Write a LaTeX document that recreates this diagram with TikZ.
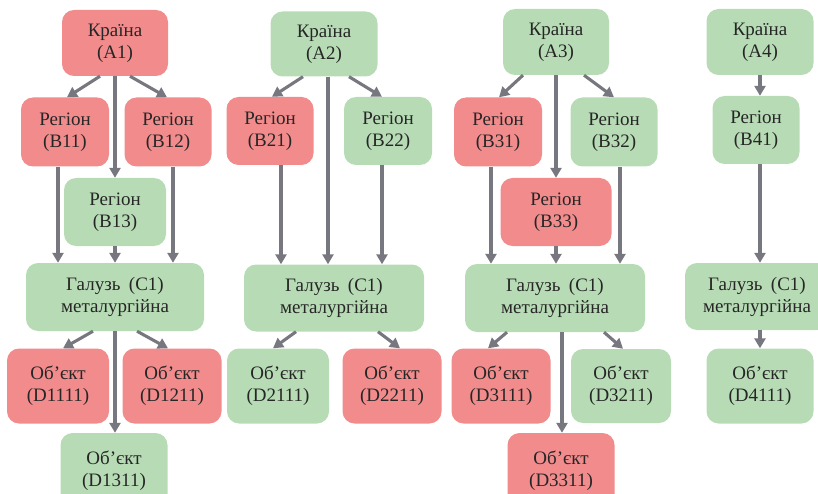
\documentclass[tikz,border=0pt]{standalone}
\usepackage{fontspec}
\setmainfont{Liberation Serif}
\usetikzlibrary{arrows.meta}
\definecolor{redbox}{HTML}{F28B8C}
\definecolor{greenbox}{HTML}{B7DCB5}
\definecolor{arrowgray}{HTML}{77777F}
\definecolor{txt}{HTML}{262626}
\tikzset{
  box/.style={rounded corners=12pt, align=center, inner sep=0pt, text=txt,
    font=\fontsize{19}{22}\selectfont},
  rbox/.style={box, fill=redbox},
  gbox/.style={box, fill=greenbox},
  conn/.style={draw=arrowgray, line width=3.1pt,
    -{Triangle[length=10pt,width=11pt]}},
}
\newcommand{\gal}{Галузь\hspace{0.45em}(C1)\\металургійна}
\begin{document}
\begin{tikzpicture}[x=1pt,y=-1pt]
\useasboundingbox (0,0) rectangle (818,494);
\clip (0,0) rectangle (818,494);
% ---------- column 1 ----------
\node[rbox, minimum width=106pt, minimum height=66pt] (A1) at (115,43) {Країна\\(A1)};
\node[rbox, minimum width=88pt, minimum height=69pt] (B11) at (65,132) {Регіон\\(B11)};
\node[rbox, minimum width=87pt, minimum height=69pt] (B12) at (168,132) {Регіон\\(B12)};
\node[gbox, minimum width=102pt, minimum height=68pt] (B13) at (115,212) {Регіон\\(B13)};
\node[gbox, minimum width=178pt, minimum height=68pt] (C1a) at (115,297) {\gal};
\node[rbox, minimum width=102pt, minimum height=75pt] (D1111) at (58,386) {Об’єкт\\(D1111)};
\node[rbox, minimum width=99pt, minimum height=75pt] (D1211) at (172,386) {Об’єкт\\(D1211)};
\node[gbox, minimum width=107pt, minimum height=76pt] (D1311) at (114,471) {Об’єкт\\(D1311)};
\draw[conn] ([xshift=-15pt]A1.south) -- ([xshift=2pt]B11.north);
\draw[conn] (A1.south) -- (B13.north);
\draw[conn] ([xshift=15pt]A1.south) -- ([xshift=-1pt]B12.north);
\draw[conn] ([xshift=-7pt]B11.south) -- ([xshift=-7pt]B11.south |- C1a.north);
\draw[conn] (B13.south) -- (B13.south |- C1a.north);
\draw[conn] ([xshift=5pt]B12.south) -- ([xshift=5pt]B12.south |- C1a.north);
\draw[conn] ([xshift=-22pt]C1a.south) -- ([xshift=5pt]D1111.north);
\draw[conn] (C1a.south) -- (C1a.south |- D1311.north);
\draw[conn] ([xshift=22pt]C1a.south) -- ([xshift=-4pt]D1211.north);
% ---------- column 2 ----------
\node[gbox, minimum width=107pt, minimum height=65pt] (A2) at (324,44) {Країна\\(A2)};
\node[rbox, minimum width=87pt, minimum height=68pt] (B21) at (270,131) {Регіон\\(B21)};
\node[gbox, minimum width=88pt, minimum height=68pt] (B22) at (388,131) {Регіон\\(B22)};
\node[gbox, minimum width=180pt, minimum height=67pt] (C2) at (334,298) {\gal};
\node[gbox, minimum width=102pt, minimum height=75pt] (D2111) at (278,386) {Об’єкт\\(D2111)};
\node[rbox, minimum width=99pt, minimum height=75pt] (D2211) at (392,386) {Об’єкт\\(D2211)};
\draw[conn] ([xshift=-21pt]A2.south) -- ([xshift=2pt]B21.north);
\draw[conn] ([xshift=4pt]A2.south) -- ([xshift=4pt]A2.south |- C2.north);
\draw[conn] ([xshift=25pt]A2.south) -- ([xshift=-6pt]B22.north);
\draw[conn] ([xshift=11pt]B21.south) -- ([xshift=11pt]B21.south |- C2.north);
\draw[conn] ([xshift=-6pt]B22.south) -- ([xshift=-6pt]B22.south |- C2.north);
\draw[conn] ([xshift=-38pt]C2.south) -- ([xshift=-5pt]D2111.north);
\draw[conn] ([xshift=44pt]C2.south) -- ([xshift=8pt]D2211.north);
% ---------- column 3 ----------
\node[gbox, minimum width=106pt, minimum height=66pt] (A3) at (556,42) {Країна\\(A3)};
\node[rbox, minimum width=88pt, minimum height=69pt] (B31) at (498,132) {Регіон\\(B31)};
\node[gbox, minimum width=87pt, minimum height=69pt] (B32) at (614,132) {Регіон\\(B32)};
\node[rbox, minimum width=111pt, minimum height=68pt] (B33) at (556,212) {Регіон\\(B33)};
\node[gbox, minimum width=180pt, minimum height=68pt] (C3) at (555,298) {\gal};
\node[rbox, minimum width=99pt, minimum height=75pt] (D3111) at (501,386) {Об’єкт\\(D3111)};
\node[gbox, minimum width=100pt, minimum height=74pt] (D3211) at (621,386) {Об’єкт\\(D3211)};
\node[rbox, minimum width=107pt, minimum height=76pt] (D3311) at (561,471) {Об’єкт\\(D3311)};
\draw[conn] ([xshift=-33pt]A3.south) -- ([xshift=1pt]B31.north);
\draw[conn] (A3.south) -- (A3.south |- B33.north);
\draw[conn] ([xshift=28pt]A3.south) -- (B32.north);
\draw[conn] ([xshift=-7pt]B31.south) -- ([xshift=-7pt]B31.south |- C3.north);
\draw[conn] (B33.south) -- (B33.south |- C3.north);
\draw[conn] ([xshift=6pt]B32.south) -- ([xshift=6pt]B32.south |- C3.north);
\draw[conn] ([xshift=-48pt]C3.south) -- ([xshift=-13pt]D3111.north);
\draw[conn] ([xshift=7pt]C3.south) -- ([xshift=7pt]C3.south |- D3311.north);
\draw[conn] ([xshift=49pt]C3.south) -- ([xshift=2pt]D3211.north);
% ---------- column 4 ----------
\node[gbox, minimum width=107pt, minimum height=66pt] (A4) at (760,42) {Країна\\(A4)};
\node[gbox, minimum width=87pt, minimum height=68pt] (B41) at (756,130) {Регіон\\(B41)};
\node[gbox, minimum width=144pt, minimum height=67pt] (C4) at (757,296.5) {\gal};
\node[gbox, minimum width=107pt, minimum height=75pt] (D4111) at (760,386) {Об’єкт\\(D4111)};
\draw[conn] (A4.south) -- (A4.south |- B41.north);
\draw[conn] ([xshift=4pt]B41.south) -- ([xshift=4pt]B41.south |- C4.north);
\draw[conn] ([xshift=3pt]C4.south) -- ([xshift=3pt]C4.south |- D4111.north);
\end{tikzpicture}
\end{document}
